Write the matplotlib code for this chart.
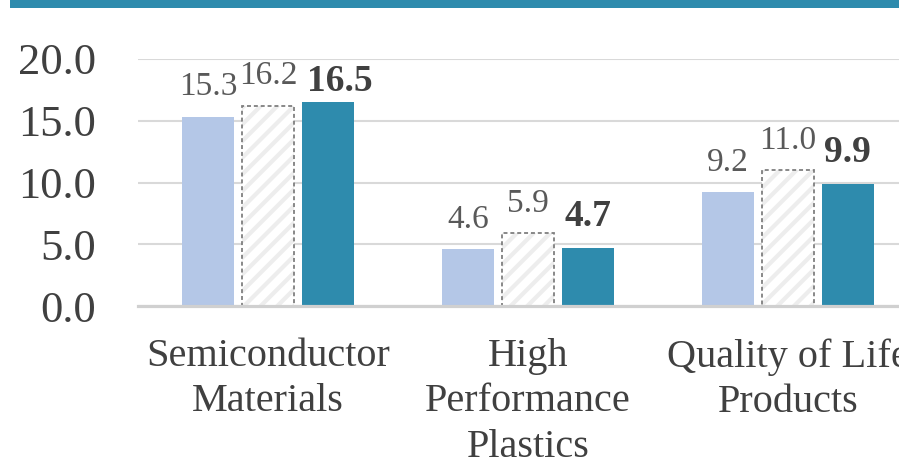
import matplotlib
matplotlib.use("Agg")
import matplotlib.pyplot as plt
from matplotlib.patches import Rectangle
import numpy as np

categories = ["Semiconductor\nMaterials", "High\nPerformance\nPlastics", "Quality of Life\nProducts"]
series_a = [15.3, 4.6, 9.2]      # light blue
series_b = [16.2, 5.9, 11.0]     # hatched, dashed outline
series_c = [16.5, 4.7, 9.9]      # teal, bold labels
yticks = [0, 5, 10, 15, 20]

plt.rcParams['font.family'] = ['Liberation Serif', 'DejaVu Serif']
plt.rcParams['hatch.linewidth'] = 3.0

W, H = 899, 461
fig = plt.figure(figsize=(W / 100, H / 100), dpi=100)
fig.patches.append(Rectangle((10 / W, 1 - 8.5 / H), 1, 8.5 / H, transform=fig.transFigure,
                             facecolor="#2e8bad", edgecolor="none"))

ax = fig.add_axes([138 / W, 1 - 306 / H, 780 / W, 247 / H])
x = np.arange(len(categories))
w = 0.2
off = 0.23

ax.bar(x - off, series_a, w, color="#b4c7e7", zorder=3)
ax.bar(x, series_b, w, color="white", hatch="//", edgecolor="#ededed", linewidth=0, zorder=3)
ax.bar(x, series_b, w, color="none", edgecolor="#7f7f7f", linewidth=1.3,
       linestyle=(0, (2.2, 1.6)), zorder=4)
ax.bar(x + off, series_c, w, color="#2e8bad", zorder=3)

ax.set_xlim(-0.5, 2.5)
ax.set_ylim(0, 20)
ax.set_yticks(yticks)
ax.set_yticklabels([f"{v:.1f}" for v in yticks])
ax.set_xticks(x)
ax.set_xticklabels(categories, linespacing=1.3)
ax.tick_params(axis="y", length=0, pad=30, labelsize=32, labelcolor="#404040")
ax.tick_params(axis="x", length=0, pad=23, labelsize=29, labelcolor="#404040")
for lab in ax.get_yticklabels():
    lab.set_verticalalignment("center_baseline")

ax.grid(axis="y", color="#d9d9d9", linewidth=1.5, zorder=0)
ax.set_axisbelow(True)
for s in ["left", "right", "top"]:
    ax.spines[s].set_visible(False)
ax.spines["bottom"].set_color("#d0d0d0")
ax.spines["bottom"].set_linewidth(2.3)
ax.spines["bottom"].set_zorder(5)


def put_label(xc, v, **kw):
    y = v + 1.75
    dx = 0
    if y > 18:          # keep label inside the plot area, nudged aside
        y = 17.4
        dx = 9
    ax.annotate(f"{v:.1f}", (xc, y), xytext=(dx, 0), textcoords="offset points",
                ha="center", va="baseline", zorder=6, **kw)


for i in range(len(categories)):
    put_label(x[i] - off, series_a[i], fontsize=24, color="#595959")
    put_label(x[i], series_b[i], fontsize=24, color="#595959")
    put_label(x[i] + off, series_c[i], fontsize=27, fontweight="bold", color="#404040")

fig.savefig("out.png", dpi=100)
